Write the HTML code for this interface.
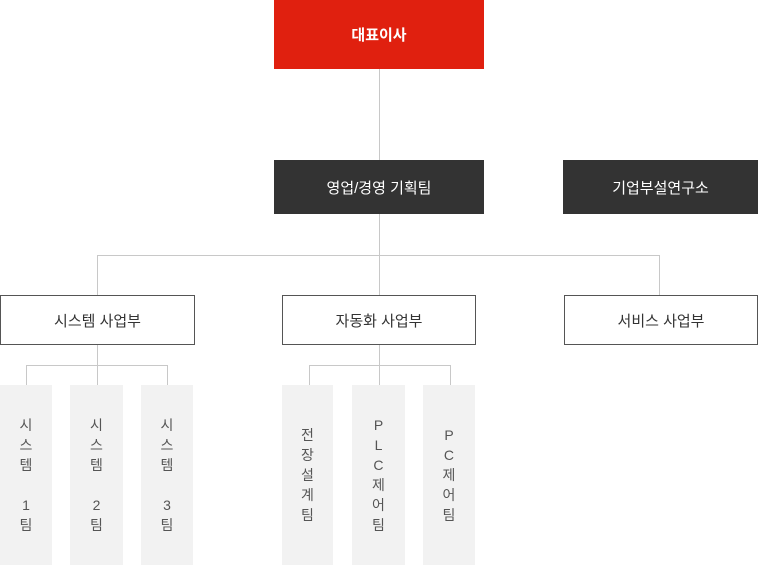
<!DOCTYPE html>
<html><head><meta charset="utf-8"><style>
body{margin:0;width:758px;height:565px;background:#fff;position:relative;overflow:hidden;font-family:"Liberation Sans","Noto Sans CJK KR",sans-serif}
.b{position:absolute;display:flex;align-items:center;justify-content:center;box-sizing:border-box;font-size:15px}
.red{background:#e0200f;color:#fff;font-weight:bold}
.dk{background:#333;color:#fff}
.wh{border:1px solid #555;color:#333;background:#fff}
.col{position:absolute;top:385px;height:180px;background:#f2f2f2;display:flex;align-items:center;justify-content:center;text-align:center;color:#555;font-size:14px;line-height:20px}
.l{position:absolute;background:#c8c8c8}
</style></head><body>
<div class="l" style="left:379px;top:69px;width:1px;height:91px"></div>
<div class="l" style="left:379px;top:213px;width:1px;height:82px"></div>
<div class="l" style="left:97px;top:255px;width:563px;height:1px"></div>
<div class="l" style="left:97px;top:255px;width:1px;height:40px"></div>
<div class="l" style="left:659px;top:255px;width:1px;height:40px"></div>
<div class="l" style="left:97px;top:344px;width:1px;height:41px"></div>
<div class="l" style="left:26px;top:365px;width:142px;height:1px"></div>
<div class="l" style="left:26px;top:365px;width:1px;height:20px"></div>
<div class="l" style="left:167px;top:365px;width:1px;height:20px"></div>
<div class="l" style="left:379px;top:344px;width:1px;height:41px"></div>
<div class="l" style="left:309px;top:365px;width:142px;height:1px"></div>
<div class="l" style="left:309px;top:365px;width:1px;height:20px"></div>
<div class="l" style="left:450px;top:365px;width:1px;height:20px"></div>

<div class="b red" style="left:274px;top:0;width:210px;height:69px">대표이사</div>
<div class="b dk" style="left:274px;top:160px;width:210px;height:54px">영업/경영 기획팀</div>
<div class="b dk" style="left:563px;top:160px;width:195px;height:54px">기업부설연구소</div>
<div class="b wh" style="left:0;top:295px;width:195px;height:50px">시스템 사업부</div>
<div class="b wh" style="left:282px;top:295px;width:194px;height:50px">자동화 사업부</div>
<div class="b wh" style="left:564px;top:295px;width:194px;height:50px">서비스 사업부</div>

<div class="col" style="left:0;width:52px">시<br>스<br>템<br>&nbsp;<br>1<br>팀</div>
<div class="col" style="left:70px;width:53px">시<br>스<br>템<br>&nbsp;<br>2<br>팀</div>
<div class="col" style="left:141px;width:52px">시<br>스<br>템<br>&nbsp;<br>3<br>팀</div>
<div class="col" style="left:282px;width:51px">전<br>장<br>설<br>계<br>팀</div>
<div class="col" style="left:352px;width:53px">P<br>L<br>C<br>제<br>어<br>팀</div>
<div class="col" style="left:423px;width:52px">P<br>C<br>제<br>어<br>팀</div>
</body></html>
